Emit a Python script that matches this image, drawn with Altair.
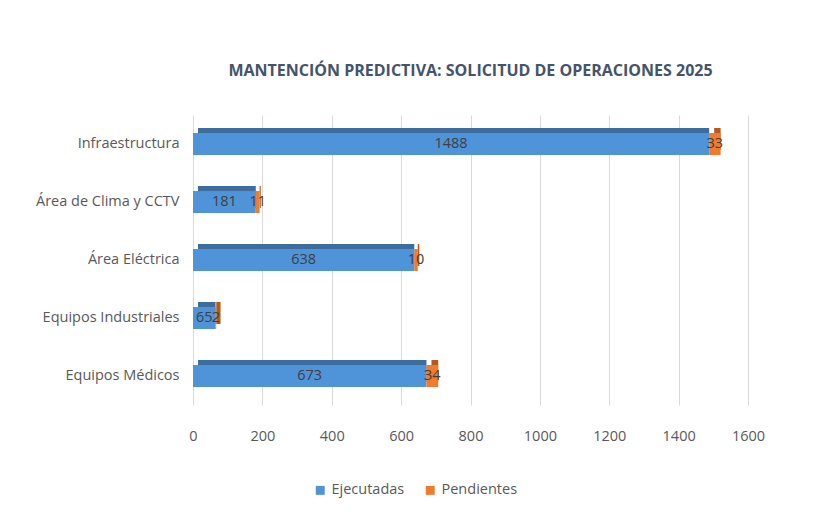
import altair as alt
import pandas as pd

categories = ["Infraestructura", "Área de Clima y CCTV", "Área Eléctrica", "Equipos Industriales", "Equipos Médicos"]
ejecutadas = [1488, 181, 638, 65, 673]
pendientes = [33, 11, 10, 2, 34]
series = ["Ejecutadas", "Pendientes"]
x_ticks = [0, 200, 400, 600, 800, 1000, 1200, 1400, 1600]

rows = []
for c, e, p in zip(categories, ejecutadas, pendientes):
    rows.append({"cat": c, "serie": "Ejecutadas", "v": e, "start": 0, "end": e, "mid": e / 2})
    rows.append({"cat": c, "serie": "Pendientes", "v": p, "start": e, "end": e + p, "mid": e + p / 2})
df = pd.DataFrame(rows)

FONT = "Open Sans, sans-serif"
FS = 14.5
front_colors = ["#4F93D8", "#F07B2C"]
back_colors = ["#3D6C9E", "#B45A1E"]

xs = alt.X("start:Q", scale=alt.Scale(domain=[0, 1600]),
           axis=alt.Axis(values=x_ticks, format="d", title=None, domain=False, ticks=False,
                         labelPadding=24, labelFontSize=FS, labelColor="#595959",
                         labelFlush=False,
                         labelFont=FONT, gridColor="#D9D9D9", gridWidth=1))
ys = alt.Y("cat:N", sort=categories, scale=alt.Scale(paddingInner=0.62, paddingOuter=0.31),
           axis=alt.Axis(title=None, domain=False, ticks=False, labelPadding=14,
                         labelFontSize=FS, labelColor="#595959", labelFont=FONT, grid=False))

back = alt.Chart(df).mark_bar(xOffset=5, yOffset=-5).encode(
    x=xs, x2="end:Q", y=ys,
    color=alt.Color("serie:N", scale=alt.Scale(domain=series, range=back_colors), legend=None),
)
front = alt.Chart(df).mark_bar().encode(
    x="start:Q", x2="end:Q", y=alt.Y("cat:N", sort=categories),
    color=alt.Color("serie:N", scale=alt.Scale(domain=series, range=front_colors),
                    legend=alt.Legend(title=None, orient="none", direction="horizontal",
                                      legendX=120, legendY=368, symbolType="square",
                                      symbolSize=80, labelFontSize=FS, labelColor="#595959",
                                      labelFont=FONT, columnPadding=18, symbolStrokeWidth=0)),
)
text = alt.Chart(df).mark_text(fontSize=FS, color="#404040", font=FONT, baseline="middle").encode(
    x="mid:Q", y=alt.Y("cat:N", sort=categories), text="v:Q"
)

chart = (back + front + text).resolve_scale(color="independent").properties(
    width=555, height=290,
    background="white",
    title=alt.TitleParams("MANTENCIÓN PREDICTIVA: SOLICITUD DE OPERACIONES 2025",
                          fontSize=16, font=FONT, fontWeight="bold", color="#44546A",
                          anchor="middle", offset=36),
    autosize=alt.AutoSizeParams(type="none"),
    padding={"left": 185, "top": 107, "right": 60, "bottom": 110},
).configure_view(stroke=None)

chart.save("out.html", embed_options={"renderer": "svg", "actions": False})
